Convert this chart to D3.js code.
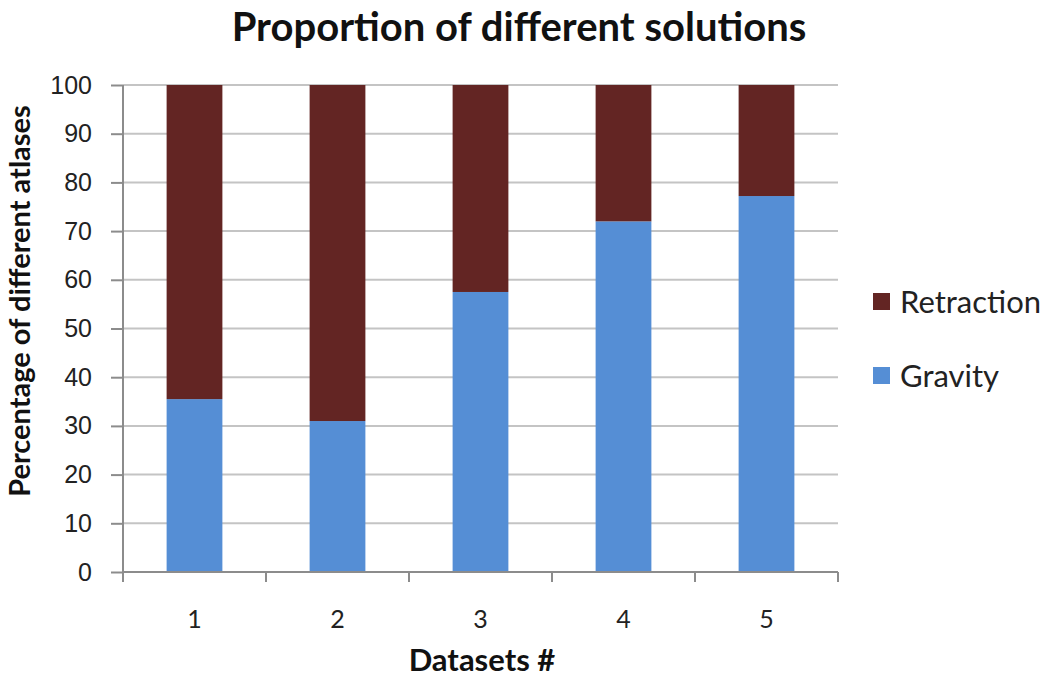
<!DOCTYPE html>
<html lang="en">
<head>
<meta charset="UTF-8">
<title>Proportion of different solutions</title>
<script src="https://d3js.org/d3.v7.min.js"></script>
<style>
    body { margin: 0; background: #fff; }
    svg { display: block; font-family: Lato, "Open Sans", sans-serif; }
    .grid line { stroke: #c4c4c4; stroke-width: 2; }
    .axis path, .axis line { stroke: #8c8c8c; stroke-width: 2; }
    .axis text { font-size: 25px; fill: #222; }
</style>
</head>
<body>
<svg id="chart"></svg>
<script>
    const width = 1050, height = 679;

    const datasets = ["1", "2", "3", "4", "5"];
    const gravity = [35.5, 31, 57.5, 72, 77.2];
    const retraction = [64.5, 69, 42.5, 28, 22.8];
    const yTicks = [0, 10, 20, 30, 40, 50, 60, 70, 80, 90, 100];
    const seriesNames = ["Retraction", "Gravity"];
    const colors = { Gravity: "#558ed5", Retraction: "#632523" };

    const margin = { top: 85, right: 212, bottom: 107, left: 123 };
    const plotW = width - margin.left - margin.right;
    const plotH = height - margin.top - margin.bottom;

    const svg = d3.select("#chart").attr("width", width).attr("height", height);
    const g = svg.append("g").attr("transform", `translate(${margin.left},${margin.top})`);

    const x = d3.scaleBand().domain(datasets).range([0, plotW]).paddingInner(0.61).paddingOuter(0.305);
    const xTick = d3.scaleBand().domain(datasets).range([0, plotW]);
    const y = d3.scaleLinear().domain([0, 100]).range([plotH, 0]);

    // gridlines
    g.append("g").attr("class", "grid")
        .selectAll("line").data(yTicks.slice(1)).enter().append("line")
        .attr("x1", 0).attr("x2", plotW)
        .attr("y1", d => y(d)).attr("y2", d => y(d));

    // stacked bars
    const rows = datasets.map((d, i) => ({ ds: d, Gravity: gravity[i], Retraction: retraction[i] }));
    const stack = d3.stack().keys(["Gravity", "Retraction"])(rows);

    g.selectAll(".series").data(stack).enter().append("g")
        .attr("fill", s => colors[s.key])
        .selectAll("rect").data(s => s).enter().append("rect")
        .attr("x", d => x(d.data.ds))
        .attr("width", x.bandwidth())
        .attr("y", d => y(d[1]))
        .attr("height", d => y(d[0]) - y(d[1]));

    // y axis
    const yAxis = g.append("g").attr("class", "axis")
        .call(d3.axisLeft(y).tickValues(yTicks).tickSize(12).tickPadding(19));
    yAxis.select(".domain").attr("d", `M0,0V${plotH}`);

    // x axis: ticks between categories
    const xAxisG = g.append("g").attr("class", "axis")
        .attr("transform", `translate(0,${plotH})`);
    xAxisG.append("line").attr("x1", 0).attr("x2", plotW);
    xAxisG.selectAll(".tk").data(d3.range(datasets.length + 1)).enter().append("line")
        .attr("x1", i => i * xTick.step()).attr("x2", i => i * xTick.step())
        .attr("y1", 0).attr("y2", 10);
    xAxisG.selectAll("text").data(datasets).enter().append("text")
        .attr("x", d => xTick(d) + xTick.bandwidth() / 2)
        .attr("y", 56)
        .attr("text-anchor", "middle")
        .text(d => d);

    // title
    svg.append("text")
        .attr("x", 519).attr("y", 41)
        .attr("text-anchor", "middle")
        .attr("font-size", 40).attr("font-weight", "bold").attr("fill", "#111")
        .text("Proportion of different solutions");

    // axis titles
    svg.append("text")
        .attr("transform", "translate(30,301) rotate(-90)")
        .attr("text-anchor", "middle")
        .attr("font-size", 29).attr("font-weight", "bold").attr("fill", "#111")
        .text("Percentage of different atlases");

    svg.append("text")
        .attr("x", 482).attr("y", 671)
        .attr("text-anchor", "middle")
        .attr("font-size", 31).attr("font-weight", "bold").attr("fill", "#111")
        .text("Datasets #");

    // legend
    const legend = svg.append("g").attr("transform", "translate(873,293)");
    const li = legend.selectAll("g").data(seriesNames).enter().append("g")
        .attr("transform", (d, i) => `translate(0,${i * 74})`);
    li.append("rect").attr("width", 17).attr("height", 17).attr("fill", d => colors[d]);
    li.append("text").attr("x", 27).attr("y", 20)
        .attr("font-size", 31).attr("fill", "#222")
        .text(d => d);
</script>
</body>
</html>
